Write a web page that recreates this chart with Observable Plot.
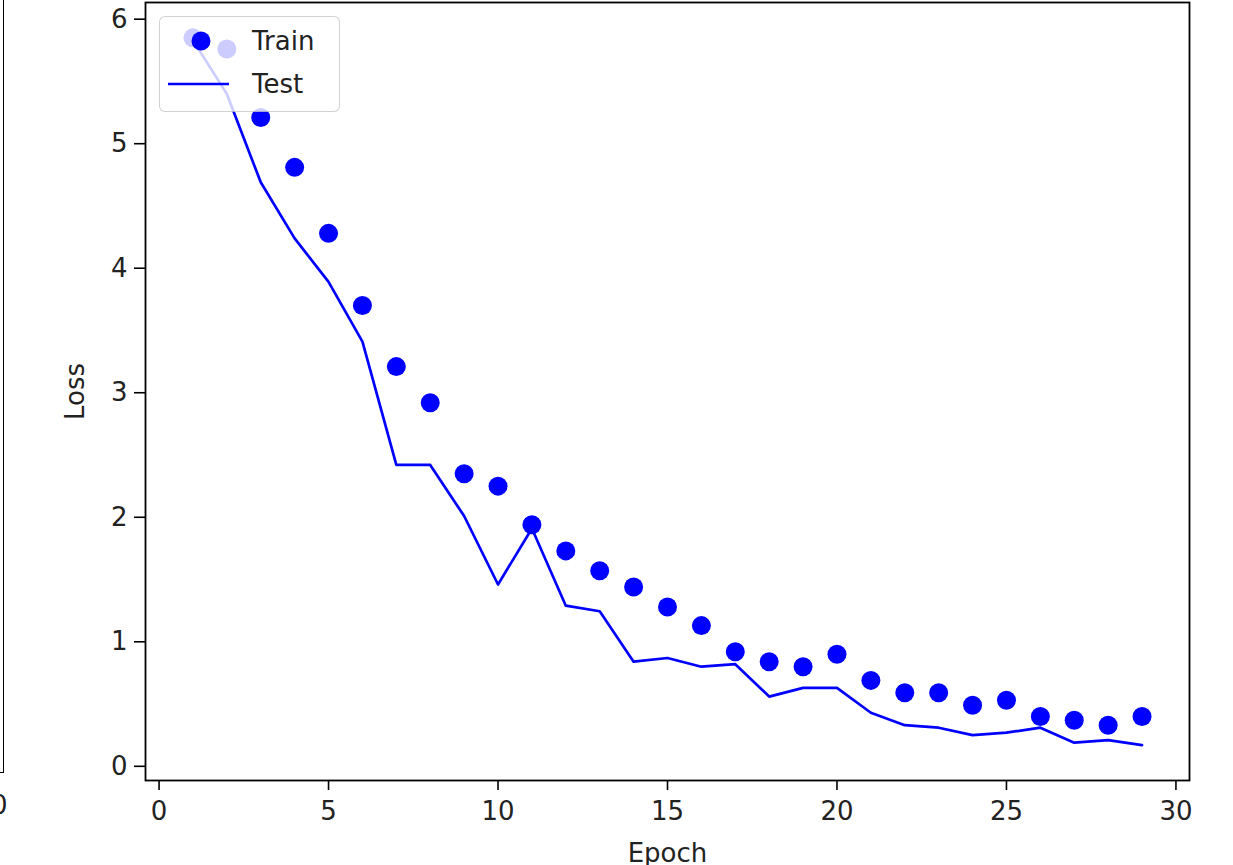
<!DOCTYPE html>
<html>
<head>
<meta charset="utf-8">
<script src="https://cdn.jsdelivr.net/npm/d3@7"></script>
<script src="https://cdn.jsdelivr.net/npm/@observablehq/plot@0.6"></script>
<style>
  html, body { margin: 0; padding: 0; background: #fff; overflow: hidden; }
  #wrap { position: relative; width: 1233px; height: 865px; font-family: "DejaVu Sans", sans-serif; }
  #wrap svg { position: absolute; left: 0; top: 0; }
  .frag { position: absolute; left: -20px; top: -3px; width: 22.5px; height: 775px;
          border-right: 1.8px solid #000; border-bottom: 1.8px solid #000; }
  .fragTick { position: absolute; left: -9px; top: 790px; font-size: 26px; color: #222; }
  .legend { position: absolute; left: 159px; top: 16px; width: 179px; height: 94px;
            border: 1.5px solid rgba(0,0,0,0.18); border-radius: 6px; background: rgba(255,255,255,0.8); }
  .legend svg { position: absolute; left: 0; top: 0; }
</style>
</head>
<body>
<div id="wrap">
  <div class="frag"></div>
  <div class="fragTick">0</div>
</div>
<script>
const epochs = [1,2,3,4,5,6,7,8,9,10,11,12,13,14,15,16,17,18,19,20,21,22,23,24,25,26,27,28,29];
const trainLoss = [5.85,5.76,5.21,4.81,4.28,3.70,3.21,2.92,2.35,2.25,1.94,1.73,1.57,1.44,1.28,1.13,0.92,0.84,0.80,0.90,0.69,0.59,0.59,0.49,0.53,0.40,0.37,0.33,0.40];
const testLoss  = [5.83,5.40,4.69,4.24,3.89,3.41,2.42,2.42,2.01,1.46,1.91,1.29,1.245,0.84,0.87,0.80,0.82,0.56,0.63,0.63,0.43,0.33,0.31,0.25,0.27,0.31,0.19,0.21,0.17];
const xTicks = [0,5,10,15,20,25,30];
const yTicks = [0,1,2,3,4,5,6];
const seriesNames = ["Train", "Test"];
const xLabel = "Epoch";
const yLabel = "Loss";

const train = epochs.map((e, i) => ({epoch: e, loss: trainLoss[i]}));
const test = epochs.map((e, i) => ({epoch: e, loss: testLoss[i]}));

const blue = "#0000ff";
const fontSize = 26;

const chart = Plot.plot({
  width: 1233,
  height: 865,
  marginLeft: 145,
  marginRight: 44,
  marginTop: 2,
  marginBottom: 85,
  style: {fontFamily: "DejaVu Sans, sans-serif", fontSize: fontSize + "px", color: "#222", background: "transparent", overflow: "visible"},
  x: {domain: [-0.4, 30.4], ticks: xTicks},
  y: {domain: [-0.114, 6.134], ticks: yTicks},
  marks: [
    Plot.line(test, {x: "epoch", y: "loss", stroke: blue, strokeWidth: 2.7}),
    Plot.dot(train, {x: "epoch", y: "loss", r: 9.5, fill: blue, stroke: "none"}),
    Plot.frame({stroke: "#000", strokeWidth: 1.8}),
    Plot.axisX({ticks: xTicks, tickSize: 10, tickPadding: 11, tickFormat: d => String(d), label: null, stroke: "#000", strokeWidth: 1.6, fill: "#222"}),
    Plot.axisY({ticks: yTicks, tickSize: 11, tickPadding: 7, tickFormat: d => String(d), label: null, stroke: "#000", strokeWidth: 1.6, fill: "#222"}),
    Plot.text([xLabel], {text: d => d, frameAnchor: "bottom", textAnchor: "middle", dy: 81, fill: "#222", fontSize: fontSize}),
    Plot.text([yLabel], {text: d => d, frameAnchor: "left", textAnchor: "middle", dx: -70, rotate: -90, fill: "#222", fontSize: fontSize})
  ]
});

const wrap = document.getElementById("wrap");
wrap.insertBefore(chart, wrap.firstChild);

// legend
const leg = document.createElement("div");
leg.className = "legend";
const ls = d3.create("svg").attr("width", 179).attr("height", 94);
ls.append("circle").attr("cx", 41).attr("cy", 24).attr("r", 9.5).attr("fill", blue);
ls.append("line").attr("x1", 8).attr("x2", 69).attr("y1", 67).attr("y2", 67).attr("stroke", blue).attr("stroke-width", 2.7);
ls.append("text").attr("x", 92).attr("y", 24).attr("dy", "0.36em").attr("font-size", fontSize).attr("font-family", "DejaVu Sans, sans-serif").attr("fill", "#222").text(seriesNames[0]);
ls.append("text").attr("x", 92).attr("y", 67).attr("dy", "0.36em").attr("font-size", fontSize).attr("font-family", "DejaVu Sans, sans-serif").attr("fill", "#222").text(seriesNames[1]);
leg.appendChild(ls.node());
wrap.appendChild(leg);
</script>
</body>
</html>
